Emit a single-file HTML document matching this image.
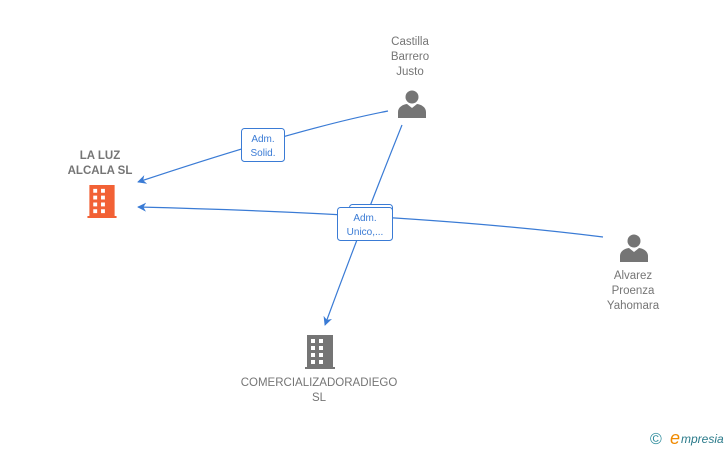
<!DOCTYPE html>
<html><head><meta charset="utf-8"><style>
html,body{margin:0;padding:0;background:#fff;width:728px;height:450px;overflow:hidden}
svg text{font-family:"Liberation Sans",Arial,sans-serif}
</style></head><body>
<svg width="728" height="450" viewBox="0 0 728 450" xmlns="http://www.w3.org/2000/svg">
<defs>
<marker id="a" viewBox="0 0 10 10" refX="9" refY="5" markerWidth="9" markerHeight="9" orient="auto-start-reverse" markerUnits="userSpaceOnUse"><path d="M0,0 L10,5 L0,10 L3,5 Z" fill="#3a7bd5"/></marker>
<symbol id="bld" viewBox="0 0 30 34">
<path d="M2,0 H28 V32 H30 V34 H0 V32 H2 Z M6,4 V8 H10 V4 Z M14,4 V8 H18 V4 Z M6,11 V15 H10 V11 Z M14,11 V15 H18 V11 Z M6,18 V22 H10 V18 Z M14,18 V22 H18 V18 Z M6,25 V29 H10 V25 Z M14,25 V29 H18 V25 Z" fill-rule="evenodd"/>
</symbol>
<symbol id="per" viewBox="0 0 28 28">
<circle cx="14" cy="7" r="6.5"/>
<path d="M0,28 V22 C0,17 5,14.5 9,14 L14,18 L19,14 C23,14.5 28,17 28,22 V28 Z"/>
</symbol>
</defs>
<g fill="none" stroke="#3a7bd5" stroke-width="1.2">
<path d="M388,111 Q300,128 138,182" marker-end="url(#a)"/>
<path d="M603,237 Q420,214 138,207" marker-end="url(#a)"/>
<path d="M402,125 Q360,230 325,325" marker-end="url(#a)"/>
</g>
<g font-size="10" fill="#3a7bd5" text-anchor="middle">
<rect x="241.5" y="128.5" width="43" height="33" rx="3" fill="#fff" stroke="#3a7bd5"/>
<text x="263" y="142">Adm.</text><text x="263" y="156">Solid.</text>
<rect x="349.5" y="204.5" width="43" height="33" rx="3" fill="#fff" stroke="#3a7bd5"/>
<rect x="337.5" y="207.5" width="55" height="33" rx="3" fill="#fff" stroke="#3a7bd5"/>
<text x="365" y="221">Adm.</text><text x="365" y="235">Unico,...</text>
</g>
<use href="#bld" x="87" y="185" width="30" height="33" fill="#f26135"/>
<use href="#bld" x="305" y="335" width="30" height="34" fill="#757575"/>
<use href="#per" x="398" y="90" width="28" height="28" fill="#757575"/>
<use href="#per" x="620" y="234" width="28" height="28" fill="#757575"/>
<g font-size="11.5" fill="#757575" text-anchor="middle">
<text x="100" y="159" font-weight="bold">LA LUZ</text>
<text x="100" y="174" font-weight="bold">ALCALA  SL</text>
<text x="410" y="45">Castilla</text><text x="410" y="60">Barrero</text><text x="410" y="75">Justo</text>
<text x="633" y="279">Alvarez</text><text x="633" y="294">Proenza</text><text x="633" y="309">Yahomara</text>
<text x="319" y="386">COMERCIALIZADORADIEGO</text><text x="319" y="401">SL</text>
</g>
<text x="650" y="444" font-size="16" fill="#2a8a9a">©</text>
<text x="670" y="444" font-size="18" font-style="italic" fill="#f08a00" font-family="Liberation Serif,serif">e</text>
<text x="681" y="443" font-size="12" font-style="italic" fill="#2a7a8a">mpresia</text>
</svg>
</body></html>
